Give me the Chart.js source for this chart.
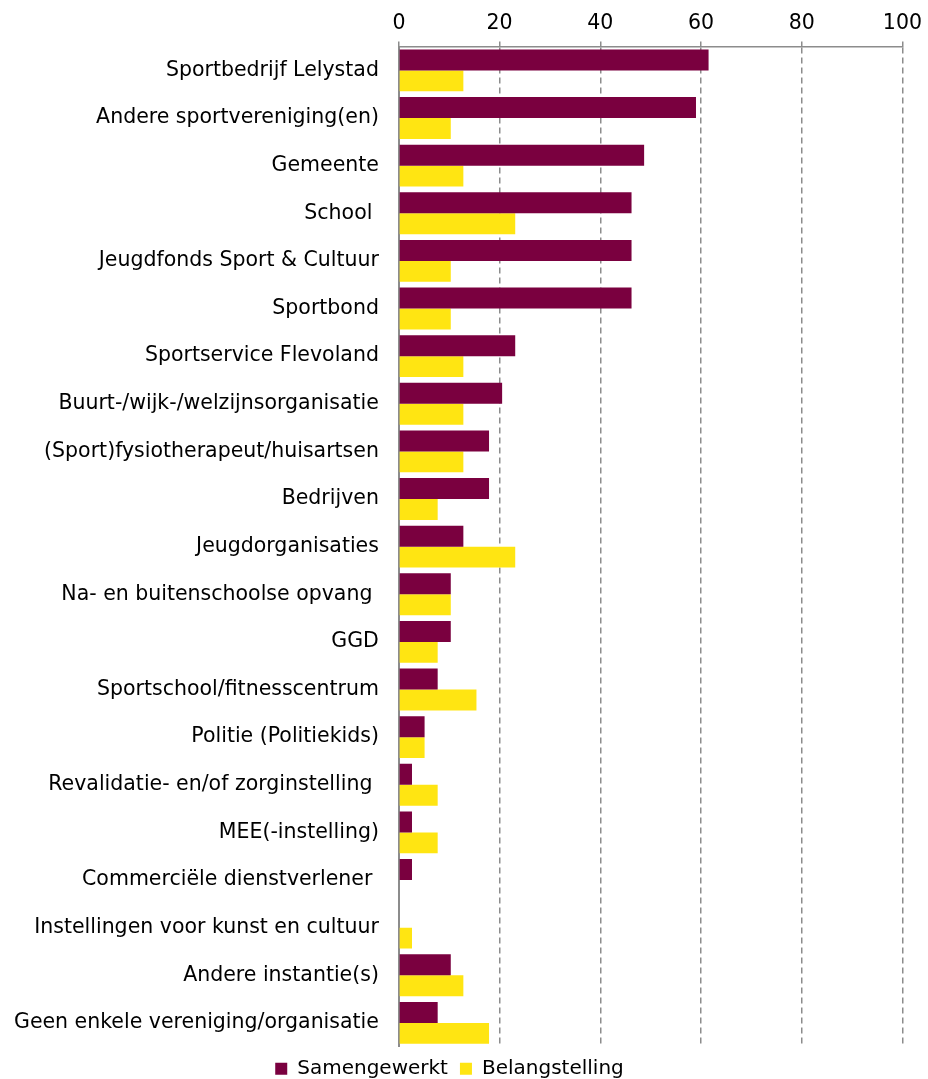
<!DOCTYPE html>
<html lang="nl">
<head>
    <meta charset="UTF-8">
    <title>Samenwerking</title>
    <script src="https://cdn.jsdelivr.net/npm/chart.js"></script>
    <style>
        html, body { margin: 0; padding: 0; background: #fff; }
        #wrap { width: 928px; height: 1079px; }
    </style>
</head>
<body>
    <div id="wrap"><canvas id="myChart"></canvas></div>

    <script>
        // categories, top to bottom
        var categories = [
            'Sportbedrijf Lelystad',
            'Andere sportvereniging(en)',
            'Gemeente',
            'School ',
            'Jeugdfonds Sport & Cultuur',
            'Sportbond',
            'Sportservice Flevoland',
            'Buurt-/wijk-/welzijnsorganisatie',
            '(Sport)fysiotherapeut/huisartsen',
            'Bedrijven',
            'Jeugdorganisaties',
            'Na- en buitenschoolse opvang ',
            'GGD',
            'Sportschool/fitnesscentrum',
            'Politie (Politiekids)',
            'Revalidatie- en/of zorginstelling ',
            'MEE(-instelling)',
            'Commerciële dienstverlener ',
            'Instellingen voor kunst en cultuur',
            'Andere instantie(s)',
            'Geen enkele vereniging/organisatie'
        ];

        // percentages
        var samengewerkt = [61.5, 59.0, 48.7, 46.2, 46.2, 46.2, 23.1, 20.5, 17.9, 17.9, 12.8,
                            10.3, 10.3, 7.7, 5.1, 2.6, 2.6, 2.6, 0, 10.3, 7.7];
        var belangstelling = [12.8, 10.3, 12.8, 23.1, 10.3, 10.3, 12.8, 12.8, 12.8, 7.7, 23.1,
                              10.3, 7.7, 15.4, 5.1, 7.7, 7.7, 0, 2.6, 12.8, 17.9];

        var xTicks = [0, 20, 40, 60, 80, 100];

        var fontFamily = '"DejaVu Sans", Verdana, sans-serif';

        var ctx = document.getElementById('myChart').getContext('2d');
        var myChart = new Chart(ctx, {
            type: 'bar',
            data: {
                labels: categories,
                datasets: [{
                    label: 'Samengewerkt',
                    data: samengewerkt,
                    backgroundColor: '#7a003f',
                    borderWidth: 0
                }, {
                    label: 'Belangstelling',
                    data: belangstelling,
                    backgroundColor: '#ffe512',
                    borderWidth: 0
                }]
            },
            options: {
                indexAxis: 'y',
                responsive: true,
                maintainAspectRatio: false,
                animation: false,
                layout: { padding: { top: 5, right: 23, bottom: -12, left: -6 } },
                datasets: {
                    bar: { categoryPercentage: 0.88, barPercentage: 1.0 }
                },
                scales: {
                    x: {
                        position: 'top',
                        min: 0,
                        max: 100,
                        afterBuildTicks: function (axis) {
                            axis.ticks = xTicks.map(function (v) { return { value: v }; });
                        },
                        grid: {
                            color: '#8c8c8c',
                            lineWidth: 1.5,
                            drawTicks: true,
                            tickLength: 5
                        },
                        border: { display: true, color: '#8c8c8c', width: 1.5, dash: [6, 4] },
                        ticks: {
                            color: '#000',
                            padding: 6,
                            font: { family: fontFamily, size: 20.5 }
                        }
                    },
                    y: {
                        grid: { display: false, drawTicks: false },
                        border: { display: true, color: '#8c8c8c', width: 2 },
                        ticks: {
                            color: '#000',
                            padding: 20,
                            autoSkip: false,
                            font: { family: fontFamily, size: 20.5 }
                        }
                    }
                },
                plugins: {
                    legend: {
                        position: 'bottom',
                        labels: {
                            color: '#000',
                            boxWidth: 12,
                            boxHeight: 12,
                            padding: 12,
                            font: { family: fontFamily, size: 20 }
                        }
                    },
                    tooltip: { enabled: false }
                }
            }
        });
    </script>
</body>
</html>
